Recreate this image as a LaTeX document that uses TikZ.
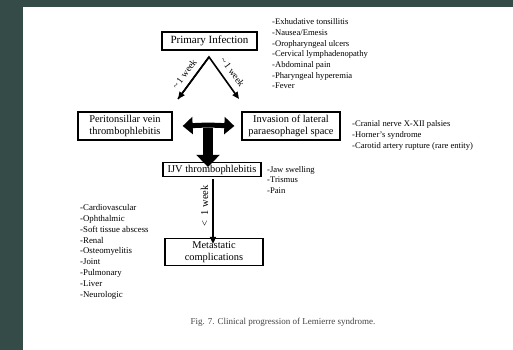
\documentclass[tikz,border=0pt]{standalone}
\usepackage{fontspec}
\setmainfont{Liberation Serif}
\usetikzlibrary{arrows.meta}
\usepackage{xcolor}
\definecolor{slideteal}{HTML}{344B47}
\definecolor{captiongray}{HTML}{444444}

\begin{document}
\begin{tikzpicture}[
      x=1pt, y=-1pt,
      every node/.style={font=\fontsize{10.4}{11.5}\selectfont},
      box/.style={
        draw=black,
        fill=white,
        line width=1.3pt,
        inner sep=0pt,
        align=center
      },
      symptoms/.style={
        anchor=north west,
        inner sep=0pt,
        align=left,
        font=\fontsize{8.6}{10.7}\selectfont
      },
      arrow/.style={-{Triangle[length=7pt,width=6pt]}, line width=1.6pt},
      fatarrow/.style={-{Triangle[length=10pt,width=17pt]}, line width=5pt},
      weeklabel/.style={font=\fontsize{9.5}{10}\selectfont, inner sep=0pt}
    ]
      \fill[slideteal] (0,0) rectangle (513,350);
      \fill[white] (23,7) rectangle (513,350);

      \node[box, minimum width=95pt, minimum height=18pt, font=\fontsize{11}{12}\selectfont] (prim) at (209.5,41) {Primary Infection};
      \node[box, minimum width=94pt, minimum height=28pt] (peri) at (125,126) {Peritonsillar vein\\thrombophlebitis};
      \node[box, minimum width=98pt, minimum height=28pt] (inv) at (291,126) {Invasion of lateral\\paraesophagel space};
      \node[box, minimum width=98pt, minimum height=14pt] (ijv) at (212,169.5) {IJV thrombophlebitis};
      \node[box, minimum width=98pt, minimum height=27pt] (meta) at (214,252) {Metastatic\\complications};

      \node[symptoms] (primlist) at (272,18.5) {-Exhudative tonsillitis\\-Nausea/Emesis\\-Oropharyngeal ulcers\\-Cervical lymphadenopathy\\-Abdominal pain\\-Pharyngeal hyperemia\\-Fever};
      \node[symptoms] (invlist) at (352,120.5) {-Cranial nerve X-XII palsies\\-Horner's syndrome\\-Carotid artery rupture (rare entity)};
      \node[symptoms] (ijvlist) at (267,166) {-Jaw swelling\\-Trismus\\-Pain};
      \node[symptoms, font=\fontsize{8.8}{10.9}\selectfont] (metalist) at (80,204) {-Cardiovascular\\-Ophthalmic\\-Soft tissue abscess\\-Renal\\-Osteomyelitis\\-Joint\\-Pulmonary\\-Liver\\-Neurologic};

      \coordinate (apex) at (209,57);
      \coordinate (periend) at (178,99);
      \coordinate (invend) at (239,99);
      \draw[arrow, line join=miter] (periend) -- (apex) -- (invend);
      \draw[arrow] (apex) -- (periend);
      \node[weeklabel, rotate=53] (wkl) at (184.5,74) {\textasciitilde\,1 week};
      \node[weeklabel, rotate=-54] (wkr) at (232.5,72) {\textasciitilde\,1 week};

      \coordinate (tee) at (208,125);
      \draw[fatarrow] (tee) -- ([xshift=10pt]peri.east);
      \draw[fatarrow] (tee) -- ([xshift=-7pt]inv.west);
      \draw[fatarrow, line width=10pt, -{Triangle[length=12pt,width=23pt]}] ([yshift=-2.5pt]tee) -- ([yshift=-5pt]ijv.north -| tee);

      \draw[arrow] ([xshift=1pt, yshift=-2pt]ijv.south) -- ([xshift=-1pt, yshift=-6pt]meta.north);
      \node[weeklabel, rotate=90, font=\fontsize{10.5}{11}\selectfont] (wkd) at (204.5,206) {<\ \ 1\ week};

      \node[font=\fontsize{9}{10}\selectfont, text=captiongray, anchor=west] (cap) at (187,322) {Fig. 7. Clinical progression of Lemierre syndrome.};
    \end{tikzpicture}
\end{document}
